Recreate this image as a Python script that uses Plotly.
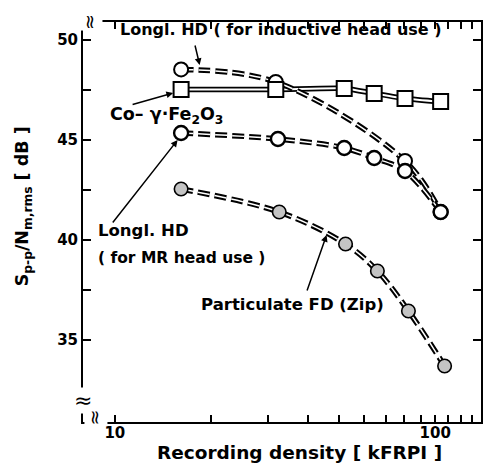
import math
import plotly.graph_objects as go

# ---- data ----
co_x = [16.1, 31.8, 52.0, 64.5, 80.5, 104.0]
co_y = [47.53, 47.53, 47.58, 47.33, 47.08, 46.92]

ind_x = [16.1, 31.8, 80.5, 104.0]
ind_y = [48.53, 47.9, 43.95, 41.4]

mr_x = [16.1, 32.3, 52.0, 64.5, 80.5, 104.0]
mr_y = [45.35, 45.05, 44.6, 44.1, 43.45, 41.4]

fd_x = [16.1, 32.6, 52.5, 66.0, 82.5, 107.0]
fd_y = [42.55, 41.4, 39.8, 38.45, 36.45, 33.7]

x_major_ticks = [10, 100]
x_minor_ticks = [20, 30, 40, 50, 60, 70, 80, 90, 110, 120, 130]
y_major_ticks = [35, 40, 45, 50]
y_minor_ticks = [37.5, 42.5, 47.5]

FONT = "DejaVu Sans, Liberation Sans, Arial, sans-serif"
L = math.log10

fig = go.Figure()


def cased_dash(x, y):
    fig.add_trace(go.Scatter(x=x, y=y, mode="lines",
                             line=dict(color="black", width=5.5, dash="12px,5px",
                                       shape="spline", smoothing=1.0),
                             hoverinfo="skip", showlegend=False))
    fig.add_trace(go.Scatter(x=x, y=y, mode="lines",
                             line=dict(color="white", width=1.5, dash="12px,5px",
                                       shape="spline", smoothing=1.0),
                             hoverinfo="skip", showlegend=False))


# Co-gamma-Fe2O3 : double solid line
fig.add_trace(go.Scatter(x=co_x, y=co_y, mode="lines",
                         line=dict(color="black", width=5.5, shape="spline", smoothing=0.6),
                         showlegend=False, hoverinfo="skip"))
fig.add_trace(go.Scatter(x=co_x, y=co_y, mode="lines",
                         line=dict(color="white", width=2, shape="spline", smoothing=0.6),
                         showlegend=False, hoverinfo="skip"))

cased_dash(ind_x, ind_y)
cased_dash(mr_x, mr_y)
cased_dash(fd_x, fd_y)

fig.add_trace(go.Scatter(x=ind_x, y=ind_y, mode="markers", showlegend=False,
                         marker=dict(symbol="circle", size=14, color="white",
                                     line=dict(color="black", width=2))))
fig.add_trace(go.Scatter(x=co_x, y=co_y, mode="markers", showlegend=False,
                         marker=dict(symbol="square", size=15, color="white",
                                     line=dict(color="black", width=2))))
fig.add_trace(go.Scatter(x=mr_x, y=mr_y, mode="markers", showlegend=False,
                         marker=dict(symbol="circle", size=14, color="white",
                                     line=dict(color="black", width=2.4))))
fig.add_trace(go.Scatter(x=fd_x, y=fd_y, mode="markers", showlegend=False,
                         marker=dict(symbol="circle", size=13.5, color="#c4c4c4",
                                     line=dict(color="black", width=1.6))))

tf = dict(family=FONT, size=15, color="black", weight="bold")


def bf(size):
    return dict(family=FONT, size=size, color="black", weight="bold")


arrow = dict(text="", showarrow=True, arrowhead=2, arrowsize=0.9,
             arrowwidth=1.5, arrowcolor="black")
brk = dict(xref="paper", yref="paper", showarrow=False, xanchor="center",
           yanchor="middle", text="≈", bgcolor="white", borderpad=0)

annots = [
    dict(x=1.519, y=50.55, text="Longl. HD ( for inductive head use )", showarrow=False,
         font=bf(16)),
    dict(x=1.161, y=46.25, text="Co– γ·Fe<sub>2</sub>O<sub>3</sub>", showarrow=False,
         font=bf(17.5)),
    dict(x=0.941, y=40.5, text="Longl. HD", showarrow=False, xanchor="left",
         yanchor="middle", font=bf(16.5)),
    dict(x=0.941, y=39.12, text="( for MR head use )", showarrow=False, xanchor="left",
         yanchor="middle", font=bf(15.5)),
    dict(x=1.556, y=36.8, text="Particulate FD (Zip)", showarrow=False,
         font=bf(16.5)),
    # arrows
    dict(x=L(18.4), y=48.75, ax=-5, ay=-21, **arrow),
    dict(x=L(15.2), y=47.35, ax=-42, ay=12, **arrow),
    dict(x=L(15.7), y=45.0, ax=-66, ay=84, **arrow),
    dict(x=L(45.8), y=40.25, ax=-20, ay=57, **arrow),
    # axis titles
    dict(xref="paper", yref="paper", x=-0.15, y=0.54, xanchor="center", yanchor="middle",
         text="S<sub>p-p</sub>/N<sub>m,rms</sub> [ dB ]", textangle=-90, showarrow=False,
         font=bf(17.5)),
    dict(xref="paper", yref="paper", x=0.544, y=-0.077, xanchor="center", yanchor="middle",
         text="Recording density [ kFRPI ]", showarrow=False,
         font=bf(18.5)),
    # axis break marks
    dict(x=0.0, y=0.055, font=dict(family=FONT, size=22, color="black"), **brk),
    dict(x=0.032, y=0.012, textangle=90, font=dict(family=FONT, size=19, color="black"), **brk),
    dict(x=0.02, y=1.0, textangle=90, font=dict(family=FONT, size=19, color="black"), **brk),
]

fig.update_layout(
    width=484, height=465,
    margin=dict(l=83, r=1, t=22, b=43),
    paper_bgcolor="white", plot_bgcolor="white",
    annotations=annots,
    xaxis=dict(type="log", range=[0.9006, 2.143], showgrid=False, zeroline=False,
               showline=True, linecolor="black", linewidth=2, mirror="allticks",
               ticks="inside", ticklen=7, tickwidth=1.5, tickcolor="black",
               tickmode="array", tickvals=x_major_ticks,
               ticktext=[str(v) for v in x_major_ticks], tickfont=tf,
               ticklabelstandoff=-4,
               minor=dict(tickmode="array", tickvals=x_minor_ticks, ticks="inside",
                          ticklen=7, tickwidth=1.5, tickcolor="black")),
    yaxis=dict(range=[30.9, 50.9], showgrid=False, zeroline=False,
               showline=True, linecolor="black", linewidth=2, mirror="allticks",
               ticks="inside", ticklen=8, tickwidth=1.5, tickcolor="black",
               tickmode="array", tickvals=y_major_ticks,
               ticktext=[str(v) for v in y_major_ticks], tickfont=tf,
               minor=dict(tickmode="array", tickvals=y_minor_ticks, ticks="inside",
                          ticklen=8, tickwidth=1.5, tickcolor="black")),
)

fig.write_html("out.html", config={"displayModeBar": False},
               post_script="document.body.style.margin='0px';"
                           "document.body.style.overflow='hidden';")
